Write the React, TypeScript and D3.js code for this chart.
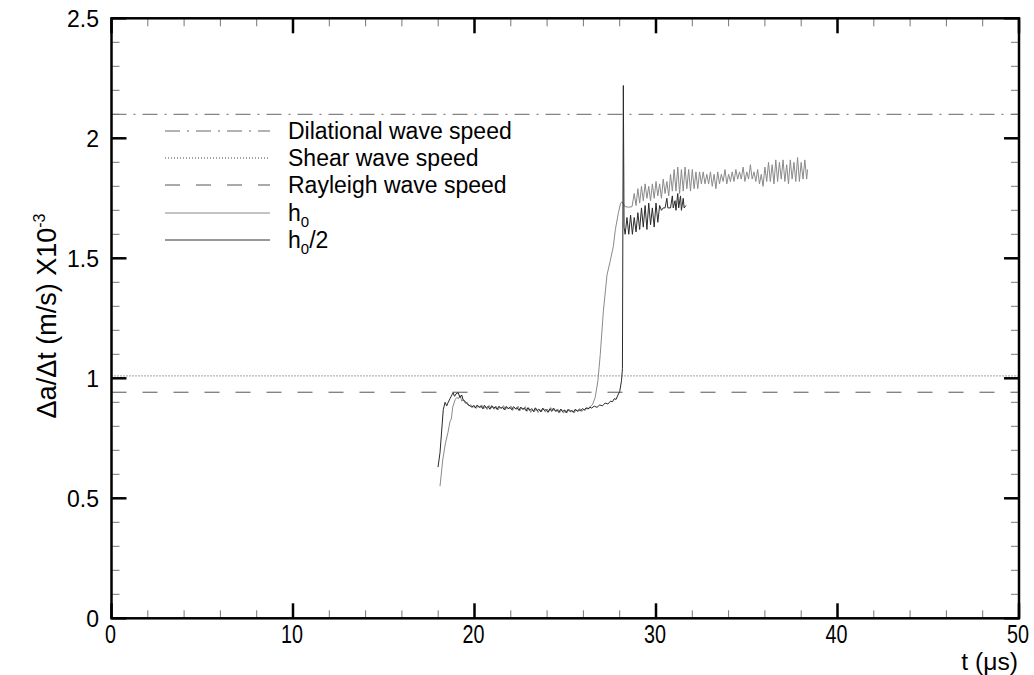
import React from 'react';
import * as d3 from 'd3';

// ---------- data ----------
const xMajorTicks = [0, 10, 20, 30, 40, 50];
const xTickLabels = ['0', '10', '20', '30', '40', '50'];
const yMajorTicks = [0, 0.5, 1, 1.5, 2, 2.5];
const yTickLabels = ['0', '0.5', '1', '1.5', '2', '2.5'];

const dilationalSpeed = 2.1;
const shearSpeed = 1.01;
const rayleighSpeed = 0.942;

const legendLabels = ['Dilational wave speed', 'Shear wave speed', 'Rayleigh wave speed', 'h0', 'h0/2'];

// h0 (grey trace): [t (µs), Δa/Δt x10^-3]
const h0Series: [number, number][] = [
  [18.1, 0.55], [18.25, 0.66], [18.4, 0.73], [18.54, 0.775], [18.65, 0.82], [18.72, 0.83], [18.8, 0.88],
  [18.93, 0.91], [19.02, 0.92], [19.12, 0.915], [19.2, 0.93], [19.3, 0.905], [19.4, 0.91], [19.5, 0.895],
  [19.6, 0.9], [19.7, 0.885], [19.8, 0.89],
  [19.9, 0.878], [20.0, 0.886], [20.1, 0.874], [20.2, 0.884], [20.3, 0.876], [20.4, 0.889], [20.5, 0.872],
  [20.6, 0.882], [20.7, 0.87], [20.8, 0.887], [20.9, 0.875], [21.0, 0.884], [21.1, 0.871], [21.2, 0.883],
  [21.3, 0.868], [21.4, 0.88], [21.5, 0.874], [21.6, 0.886], [21.7, 0.869], [21.8, 0.881], [21.9, 0.872],
  [22.0, 0.885], [22.1, 0.866], [22.2, 0.879], [22.3, 0.87], [22.4, 0.884], [22.5, 0.865], [22.6, 0.878],
  [22.7, 0.869], [22.8, 0.882], [22.9, 0.862], [23.0, 0.875], [23.1, 0.858], [23.2, 0.871], [23.3, 0.86],
  [23.4, 0.874], [23.5, 0.857], [23.6, 0.869], [23.7, 0.861], [23.8, 0.876], [23.9, 0.859], [24.0, 0.872],
  [24.1, 0.862], [24.2, 0.878], [24.3, 0.864], [24.4, 0.873], [24.5, 0.86], [24.6, 0.871], [24.7, 0.858],
  [24.8, 0.87], [24.9, 0.855], [25.0, 0.868], [25.1, 0.857], [25.2, 0.872], [25.3, 0.859], [25.4, 0.867],
  [25.5, 0.856], [25.6, 0.87], [25.7, 0.86], [25.8, 0.874], [25.9, 0.862], [26.0, 0.869], [26.1, 0.866],
  [26.2, 0.878], [26.3, 0.872], [26.4, 0.884], [26.5, 0.89],
  [26.65, 0.92], [26.8, 0.99], [26.93, 1.1], [27.1, 1.28], [27.3, 1.43], [27.48, 1.49], [27.65, 1.55],
  [27.76, 1.62], [27.93, 1.69], [28.05, 1.73], [28.13, 1.735], [28.3, 1.715], [28.5, 1.713], [28.68, 1.715],
  [28.8, 1.77], [28.9, 1.72], [29.0, 1.79], [29.1, 1.73], [29.2, 1.8], [29.3, 1.74], [29.4, 1.81],
  [29.5, 1.75], [29.6, 1.8], [29.7, 1.74], [29.8, 1.81], [29.9, 1.75], [30.0, 1.82], [30.1, 1.76],
  [30.2, 1.81], [30.3, 1.75], [30.4, 1.83], [30.5, 1.77], [30.6, 1.82], [30.7, 1.76], [30.8, 1.85],
  [30.9, 1.78], [31.0, 1.87], [31.1, 1.78], [31.2, 1.88], [31.3, 1.77], [31.4, 1.87], [31.5, 1.78],
  [31.6, 1.88], [31.7, 1.79], [31.8, 1.87], [31.9, 1.78], [32.0, 1.87], [32.1, 1.79], [32.2, 1.86],
  [32.3, 1.79], [32.4, 1.86], [32.5, 1.81], [32.6, 1.86], [32.7, 1.81], [32.8, 1.85], [32.9, 1.81],
  [33.0, 1.86], [33.1, 1.8], [33.2, 1.85], [33.3, 1.79], [33.4, 1.86], [33.5, 1.81], [33.6, 1.85],
  [33.7, 1.82], [33.8, 1.87], [33.9, 1.81], [34.0, 1.85], [34.1, 1.82], [34.2, 1.86], [34.3, 1.82],
  [34.4, 1.87], [34.5, 1.83], [34.6, 1.86], [34.7, 1.83], [34.8, 1.88], [34.9, 1.82], [35.0, 1.86],
  [35.1, 1.83], [35.2, 1.89], [35.3, 1.83], [35.4, 1.86], [35.5, 1.82], [35.6, 1.87], [35.7, 1.81],
  [35.8, 1.85], [35.9, 1.8], [36.0, 1.88], [36.1, 1.82], [36.2, 1.9], [36.3, 1.82], [36.4, 1.89],
  [36.5, 1.81], [36.6, 1.91], [36.7, 1.82], [36.8, 1.9], [36.9, 1.83], [37.0, 1.91], [37.1, 1.82],
  [37.2, 1.89], [37.3, 1.81], [37.4, 1.91], [37.5, 1.83], [37.6, 1.9], [37.7, 1.82], [37.8, 1.92],
  [37.9, 1.82], [38.0, 1.9], [38.1, 1.83], [38.2, 1.91], [38.3, 1.83], [38.35, 1.87],
];

// h0/2 (dark trace)
const h0HalfSeries: [number, number][] = [
  [17.99, 0.63], [18.1, 0.69], [18.28, 0.87], [18.38, 0.9], [18.47, 0.885], [18.55, 0.9], [18.65, 0.915],
  [18.75, 0.93], [18.82, 0.94], [18.9, 0.925], [18.98, 0.935], [19.1, 0.94], [19.2, 0.92], [19.3, 0.93],
  [19.37, 0.91], [19.47, 0.905], [19.57, 0.895], [19.65, 0.89], [19.75, 0.885], [19.85, 0.88],
  [19.95, 0.887], [20.05, 0.876], [20.15, 0.889], [20.25, 0.879], [20.35, 0.885], [20.45, 0.873],
  [20.55, 0.888], [20.65, 0.876], [20.75, 0.883], [20.85, 0.871], [20.95, 0.886], [21.05, 0.874],
  [21.15, 0.882], [21.25, 0.87], [21.35, 0.884], [21.45, 0.875], [21.55, 0.88], [21.65, 0.868],
  [21.75, 0.883], [21.85, 0.873], [21.95, 0.879], [22.05, 0.869], [22.15, 0.882], [22.25, 0.874],
  [22.35, 0.877], [22.45, 0.866], [22.55, 0.88], [22.65, 0.871], [22.75, 0.876], [22.85, 0.864],
  [22.95, 0.878], [23.05, 0.866], [23.15, 0.874], [23.25, 0.861], [23.35, 0.877], [23.45, 0.865],
  [23.55, 0.872], [23.65, 0.86], [23.75, 0.875], [23.85, 0.866], [23.95, 0.87], [24.05, 0.858],
  [24.15, 0.873], [24.25, 0.862], [24.35, 0.876], [24.45, 0.863], [24.55, 0.869], [24.65, 0.857],
  [24.75, 0.872], [24.85, 0.861], [24.95, 0.868], [25.05, 0.856], [25.15, 0.87], [25.25, 0.862],
  [25.35, 0.866], [25.45, 0.858], [25.55, 0.871], [25.65, 0.863], [25.75, 0.869], [25.85, 0.864],
  [25.95, 0.874], [26.05, 0.868], [26.15, 0.877], [26.25, 0.872], [26.35, 0.88], [26.45, 0.876],
  [26.6, 0.884], [26.75, 0.879], [26.9, 0.889], [27.05, 0.885], [27.2, 0.897], [27.35, 0.893],
  [27.5, 0.905], [27.6, 0.902], [27.7, 0.915], [27.8, 0.912], [27.9, 0.93], [28.0, 0.945], [28.1, 0.99],
  [28.15, 1.04], [28.2, 2.22], [28.24, 1.63],
  [28.3, 1.6], [28.4, 1.67], [28.5, 1.6], [28.6, 1.68], [28.7, 1.6], [28.8, 1.67], [28.9, 1.61],
  [29.0, 1.69], [29.1, 1.62], [29.2, 1.71], [29.3, 1.63], [29.4, 1.72], [29.5, 1.62], [29.6, 1.73],
  [29.7, 1.64], [29.8, 1.71], [29.9, 1.63], [30.0, 1.73], [30.1, 1.65], [30.2, 1.72], [30.3, 1.7],
  [30.4, 1.71], [30.5, 1.71], [30.6, 1.75], [30.65, 1.71], [30.8, 1.71], [30.9, 1.76], [30.95, 1.71],
  [31.05, 1.74], [31.1, 1.7], [31.2, 1.77], [31.25, 1.71], [31.35, 1.76], [31.4, 1.7], [31.5, 1.75],
  [31.55, 1.71], [31.65, 1.72],
];

// ---------- component ----------
const W = 1034;
const H = 675;
const FONT = '"Liberation Sans", Arial, Helvetica, sans-serif';

export default function App() {
  const x = d3.scaleLinear().domain([0, 50]).range([111.5, 1019]);
  const y = d3.scaleLinear().domain([0, 2.5]).range([618.3, 18.3]);
  const line = d3.line<[number, number]>().x((d) => x(d[0])).y((d) => y(d[1]));

  const xMinor = d3.range(0, 50.001, 2).filter((v) => !xMajorTicks.includes(v));
  const yMinor = d3.range(0, 2.5001, 0.1).map((v) => +v.toFixed(2)).filter((v) => !yMajorTicks.includes(v));

  const [x0, x1] = x.range();
  const [yb, yt] = y.range();
  const MAJ = 15;
  const MIN = 8;

  const refLines = [
    { v: dilationalSpeed, dash: '15 7 2 7', color: '#666' },
    { v: shearSpeed, dash: '1 2', color: '#444' },
    { v: rayleighSpeed, dash: '15 16', color: '#555' },
  ];
  const legendStyles = [
    { dash: '15 7 2 7', color: '#666' },
    { dash: '1 2', color: '#444' },
    { dash: '15 16', color: '#555' },
    { dash: null, color: '#888' },
    { dash: null, color: '#333' },
  ];
  const legendY = [131, 158, 185, 213, 240];

  return (
    <svg width={W} height={H} style={{ position: 'absolute', left: 0, top: 0, background: '#fff' }} fontFamily={FONT}>
      <rect x={0} y={0} width={W} height={H} fill="#fff" />
      {refLines.map((r, i) => (
        <line key={i} x1={x0} x2={x1} y1={y(r.v)} y2={y(r.v)} stroke={r.color} strokeWidth={1} strokeDasharray={r.dash} />
      ))}
      <path d={line(h0Series) || ''} fill="none" stroke="#8a8a8a" strokeWidth={1} />
      <path d={line(h0HalfSeries) || ''} fill="none" stroke="#2a2a2a" strokeWidth={1} />

      {xMinor.map((v) => (
        <g key={'xm' + v} stroke="#777" strokeWidth={1}>
          <line x1={x(v)} x2={x(v)} y1={yb} y2={yb - MIN} />
          <line x1={x(v)} x2={x(v)} y1={yt} y2={yt + MIN} />
        </g>
      ))}
      {yMinor.map((v) => (
        <g key={'ym' + v} stroke="#777" strokeWidth={1}>
          <line x1={x0} x2={x0 + MIN} y1={y(v)} y2={y(v)} />
          <line x1={x1} x2={x1 - MIN} y1={y(v)} y2={y(v)} />
        </g>
      ))}
      {xMajorTicks.map((v) => (
        <g key={'xM' + v} stroke="#000" strokeWidth={2.5}>
          <line x1={x(v)} x2={x(v)} y1={yb} y2={yb - MAJ} />
          <line x1={x(v)} x2={x(v)} y1={yt} y2={yt + MAJ} />
        </g>
      ))}
      {yMajorTicks.map((v) => (
        <g key={'yM' + v} stroke="#000" strokeWidth={2.5}>
          <line x1={x0} x2={x0 + MAJ} y1={y(v)} y2={y(v)} />
          <line x1={x1} x2={x1 - MAJ} y1={y(v)} y2={y(v)} />
        </g>
      ))}
      <rect x={x0} y={yt} width={x1 - x0} height={yb - yt} fill="none" stroke="#000" strokeWidth={2.5} />

      {xMajorTicks.map((v, i) => (
        <text key={'xl' + v} x={x(v) - 1} y={643} textAnchor="middle" fontSize={26}
          transform={`translate(${x(v) - 1},0) scale(0.76,1) translate(${-(x(v) - 1)},0)`}>
          {xTickLabels[i]}
        </text>
      ))}
      {yMajorTicks.map((v, i) => (
        <text key={'yl' + v} x={99} y={y(v)} dy="0.36em" textAnchor="end" fontSize={23}>
          {yTickLabels[i]}
        </text>
      ))}

      <text x={1018} y={670} textAnchor="end" fontSize={23.5}
        transform={`translate(1018,0) scale(1.05,1) translate(-1018,0)`}>t (μs)</text>
      <text transform="translate(56,316) rotate(-90)" textAnchor="middle" fontSize={27}>
        Δa/Δt (m/s) X10<tspan dy={-11} fontSize={16}>-3</tspan>
      </text>

      {legendStyles.map((s, i) => (
        <line key={'lg' + i} x1={165} x2={270} y1={legendY[i]} y2={legendY[i]} stroke={s.color} strokeWidth={1}
          strokeDasharray={s.dash || undefined} />
      ))}
      {legendLabels.slice(0, 3).map((t, i) => (
        <text key={'lt' + i} x={288} y={legendY[i] + 8} fontSize={23}>{t}</text>
      ))}
      <text x={288} y={legendY[3] + 8} fontSize={23}>h<tspan dy={6} fontSize={15}>0</tspan></text>
      <text x={288} y={legendY[4] + 8} fontSize={23}>h<tspan dy={6} fontSize={15}>0</tspan><tspan dy={-6}>/2</tspan></text>
    </svg>
  );
}
